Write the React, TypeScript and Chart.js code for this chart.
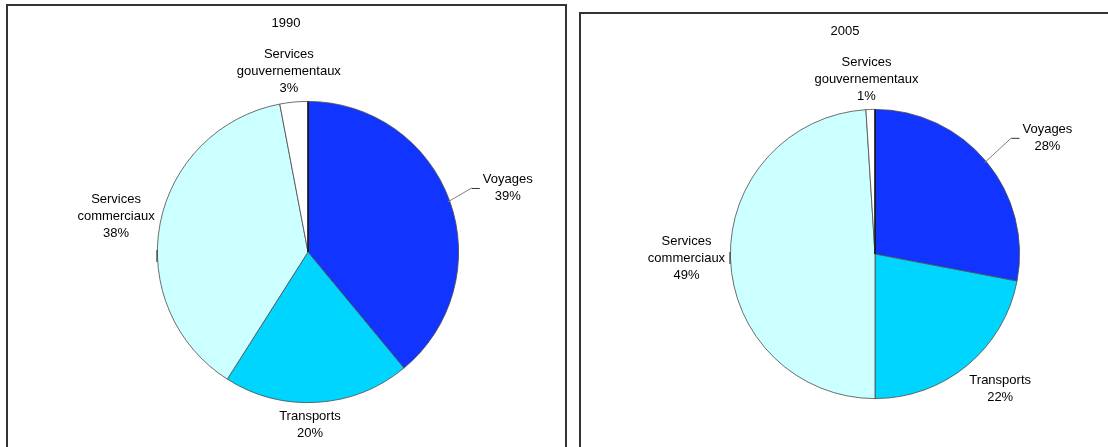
import React, { useEffect, useRef } from "react";
import { Chart, registerables } from "chart.js";

Chart.register(...registerables);

// ---- data ----
const categories: string[][] = [
  ["Voyages"],
  ["Transports"],
  ["Services", "commerciaux"],
  ["Services", "gouvernementaux"],
];
const values1990: number[] = [39, 20, 38, 3];
const values2005: number[] = [28, 22, 49, 1];
const years: string[] = ["1990", "2005"];
const sliceColors: string[] = ["#1234FF", "#00D5FF", "#CCFFFF", "#FFFFFF"];

// ---- layout (positions / styles) ----
const FONT = '13px "Liberation Sans", Arial, sans-serif';
const LINE_H = 17;

type PanelLayout = {
  panelLeft: number;
  panelTop: number;
  canvasLeft: number;
  canvasWidth: number;
  padding: { left: number; right: number; top: number; bottom: number };
  titleY: number;
  labelOffsets: [number, number][];
};

const layouts: PanelLayout[] = [
  {
    panelLeft: 6,
    panelTop: 4,
    canvasLeft: 6,
    canvasWidth: 560,
    padding: { left: 151, right: 107, top: 101, bottom: 44 },
    titleY: 23,
    labelOffsets: [
      [58, -13],
      [-7.5, 23],
      [-44, -7],
      [-5, -31],
    ],
  },
  {
    panelLeft: 579,
    panelTop: 12,
    canvasLeft: 579,
    canvasWidth: 532,
    padding: { left: 151, right: 91, top: 109, bottom: 48 },
    titleY: 31,
    labelOffsets: [
      [61, -24],
      [33, 24],
      [-44, 0],
      [-4, -30],
    ],
  },
];

function makeLabelPlugin(title: string, layout: PanelLayout) {
  return {
    id: "excelLabels",
    afterDatasetsDraw(chart: any) {
      const ctx = chart.ctx as CanvasRenderingContext2D;
      const meta = chart.getDatasetMeta(0);
      const data = chart.data.datasets[0].data as number[];
      const total = data.reduce((a, b) => a + b, 0);
      ctx.save();
      ctx.font = FONT;
      ctx.fillStyle = "#000";
      ctx.textAlign = "center";
      ctx.textBaseline = "middle";
      // title
      ctx.fillText(title, chart.width / 2, layout.titleY);

      meta.data.forEach((el: any, i: number) => {
        const p = el.getProps(["x", "y", "startAngle", "endAngle", "outerRadius"], true);
        const mid = (p.startAngle + p.endAngle) / 2;
        const ex = p.x + Math.cos(mid) * p.outerRadius;
        const ey = p.y + Math.sin(mid) * p.outerRadius;
        const [dx, dy] = layout.labelOffsets[i];
        const cx = ex + dx;
        const cy = ey + dy;
        const lines = [...categories[i], Math.round((data[i] / total) * 100) + "%"];
        const w = Math.max(...lines.map((l) => ctx.measureText(l).width));

        // dark edge at the start of the first slice
        if (i === 0) {
          ctx.strokeStyle = "#111";
          ctx.lineWidth = 1.5;
          ctx.beginPath();
          ctx.moveTo(p.x, p.y);
          ctx.lineTo(p.x + Math.cos(p.startAngle) * p.outerRadius, p.y + Math.sin(p.startAngle) * p.outerRadius);
          ctx.stroke();
        }

        // leader lines
        if (i === 0) {
          const left = cx - w / 2;
          ctx.strokeStyle = "#808080";
          ctx.lineWidth = 1;
          ctx.beginPath();
          ctx.moveTo(ex - 2, ey + 1);
          ctx.lineTo(left - 11, cy);
          ctx.stroke();
          ctx.strokeStyle = "#333";
          ctx.beginPath();
          ctx.moveTo(left - 11, cy + 0.5);
          ctx.lineTo(left - 3, cy + 0.5);
          ctx.stroke();
        }
        if (i === 2) {
          ctx.strokeStyle = "#333";
          ctx.lineWidth = 1;
          ctx.beginPath();
          ctx.moveTo(p.x - p.outerRadius - 0.5, p.y - 2);
          ctx.lineTo(p.x - p.outerRadius - 0.5, p.y + 10);
          ctx.stroke();
        }

        ctx.fillStyle = "#000";
        lines.forEach((l, k) => {
          ctx.fillText(l, cx, cy + (k - (lines.length - 1) / 2) * LINE_H);
        });
      });
      ctx.restore();
    },
  };
}

function PieChart({ title, values, layout }: { title: string; values: number[]; layout: PanelLayout }) {
  const ref = useRef<HTMLCanvasElement | null>(null);
  useEffect(() => {
    if (!ref.current) return;
    const chart = new Chart(ref.current, {
      type: "pie",
      data: {
        labels: categories,
        datasets: [
          {
            data: values,
            backgroundColor: sliceColors,
            borderColor: "#4a4a4a",
            borderWidth: 0.8,
          },
        ],
      },
      options: {
        animation: false,
        responsive: false,
        maintainAspectRatio: false,
        layout: { padding: layout.padding },
        plugins: {
          legend: { display: false },
          tooltip: { enabled: false },
          title: { display: false },
        },
        events: [],
      },
      plugins: [makeLabelPlugin(title, layout)],
    });
    return () => chart.destroy();
  }, [title, values, layout]);
  return (
    <canvas
      ref={ref}
      width={layout.canvasWidth}
      height={447}
      style={{ position: "absolute", left: layout.canvasLeft, top: 0, width: layout.canvasWidth, height: 447 }}
    />
  );
}

export default function App() {
  const series = [values1990, values2005];
  return (
    <div
      style={{
        position: "absolute",
        left: 0,
        top: 0,
        width: 1108,
        height: 447,
        overflow: "hidden",
        background: "#fff",
      }}
    >
      {layouts.map((l, i) => (
        <div
          key={"p" + i}
          style={{
            position: "absolute",
            left: l.panelLeft,
            top: l.panelTop,
            width: i === 0 ? 561 : 560,
            height: 480,
            border: "2px solid #333",
            boxSizing: "border-box",
          }}
        />
      ))}
      {layouts.map((l, i) => (
        <PieChart key={"c" + i} title={years[i]} values={series[i]} layout={l} />
      ))}
    </div>
  );
}
